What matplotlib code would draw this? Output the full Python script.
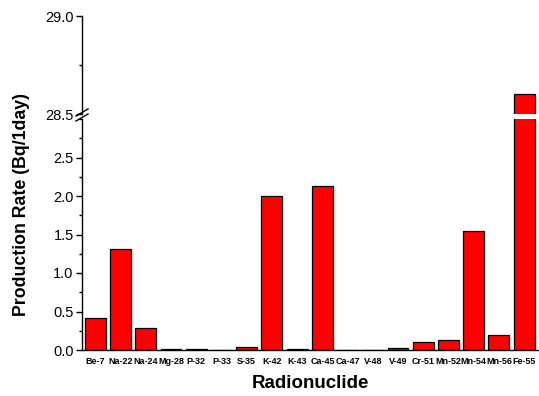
import matplotlib
matplotlib.use("Agg")
import matplotlib.pyplot as plt
from matplotlib.lines import Line2D
from matplotlib.ticker import MultipleLocator

plt.rcParams['font.family'] = ['Liberation Sans', 'DejaVu Sans']

nuclides = ["Be-7", "Na-22", "Na-24", "Mg-28", "P-32", "P-33", "S-35", "K-42", "K-43",
            "Ca-45", "Ca-47", "V-48", "V-49", "Cr-51", "Mn-52", "Mn-54", "Mn-56", "Fe-55"]
rates = [0.42, 1.31, 0.29, 0.012, 0.012, 0.006, 0.035, 2.0, 0.015,
         2.13, 0.006, 0.004, 0.025, 0.11, 0.13, 1.55, 0.19, 28.6]

W, H = 539, 396
fig = plt.figure(figsize=(W / 100, H / 100), dpi=100)

left, right = 82 / W, 537.5 / W
ax_lo = fig.add_axes([left, 1 - 350 / H, right - left, (350 - 119) / H])
ax_hi = fig.add_axes([left, 1 - 114 / H, right - left, (114 - 16) / H])

x = list(range(len(nuclides)))
for ax in (ax_lo, ax_hi):
    ax.bar(x, rates, width=0.83, color="#FF0000", edgecolor="black", linewidth=0.9)
    ax.set_xlim(-0.53, len(nuclides) - 0.47)
    for s in ("top", "right"):
        ax.spines[s].set_visible(False)
    ax.spines["left"].set_linewidth(1.0)
    ax.tick_params(axis="y", direction="out", length=4, width=1.0, labelsize=10.5, pad=2)
    ax.tick_params(axis="y", which="minor", direction="out", length=2.5, width=1.0)

ax_lo.set_ylim(0, 3.0)
ax_lo.yaxis.set_minor_locator(MultipleLocator(0.25))
ax_lo.set_yticks([0, 0.5, 1.0, 1.5, 2.0, 2.5])
ax_lo.set_yticklabels(["0.0", "0.5", "1.0", "1.5", "2.0", "2.5"])
ax_lo.set_xticks(x)
ax_lo.set_xticklabels(nuclides, fontsize=6.5, fontweight="bold")
ax_lo.tick_params(axis="x", length=0, pad=5)
ax_lo.spines["bottom"].set_linewidth(1.0)

ax_hi.set_ylim(28.5, 29.0)
ax_hi.set_yticks([28.5, 29.0])
ax_hi.set_yticklabels(["28.5", "29.0"])
ax_hi.yaxis.set_minor_locator(MultipleLocator(0.25))
ax_hi.spines["bottom"].set_visible(False)
ax_hi.set_xticks([])

# break marks
for dy in (0, 5):
    y0 = 1 - (121 - dy) / H
    y1 = 1 - (114 - dy) / H
    fig.add_artist(Line2D([76 / W, 88 / W], [y0, y1], color="black", lw=1.0))

fig.text(22 / W, 1 - 205 / H, "Production Rate (Bq/1day)", rotation=90,
         ha="center", va="center", fontsize=12.8, fontweight="bold")
fig.text(310 / W, 1 - 384 / H, "Radionuclide", ha="center", va="center",
         fontsize=13.5, fontweight="bold")

fig.savefig("out.png", dpi=100)
